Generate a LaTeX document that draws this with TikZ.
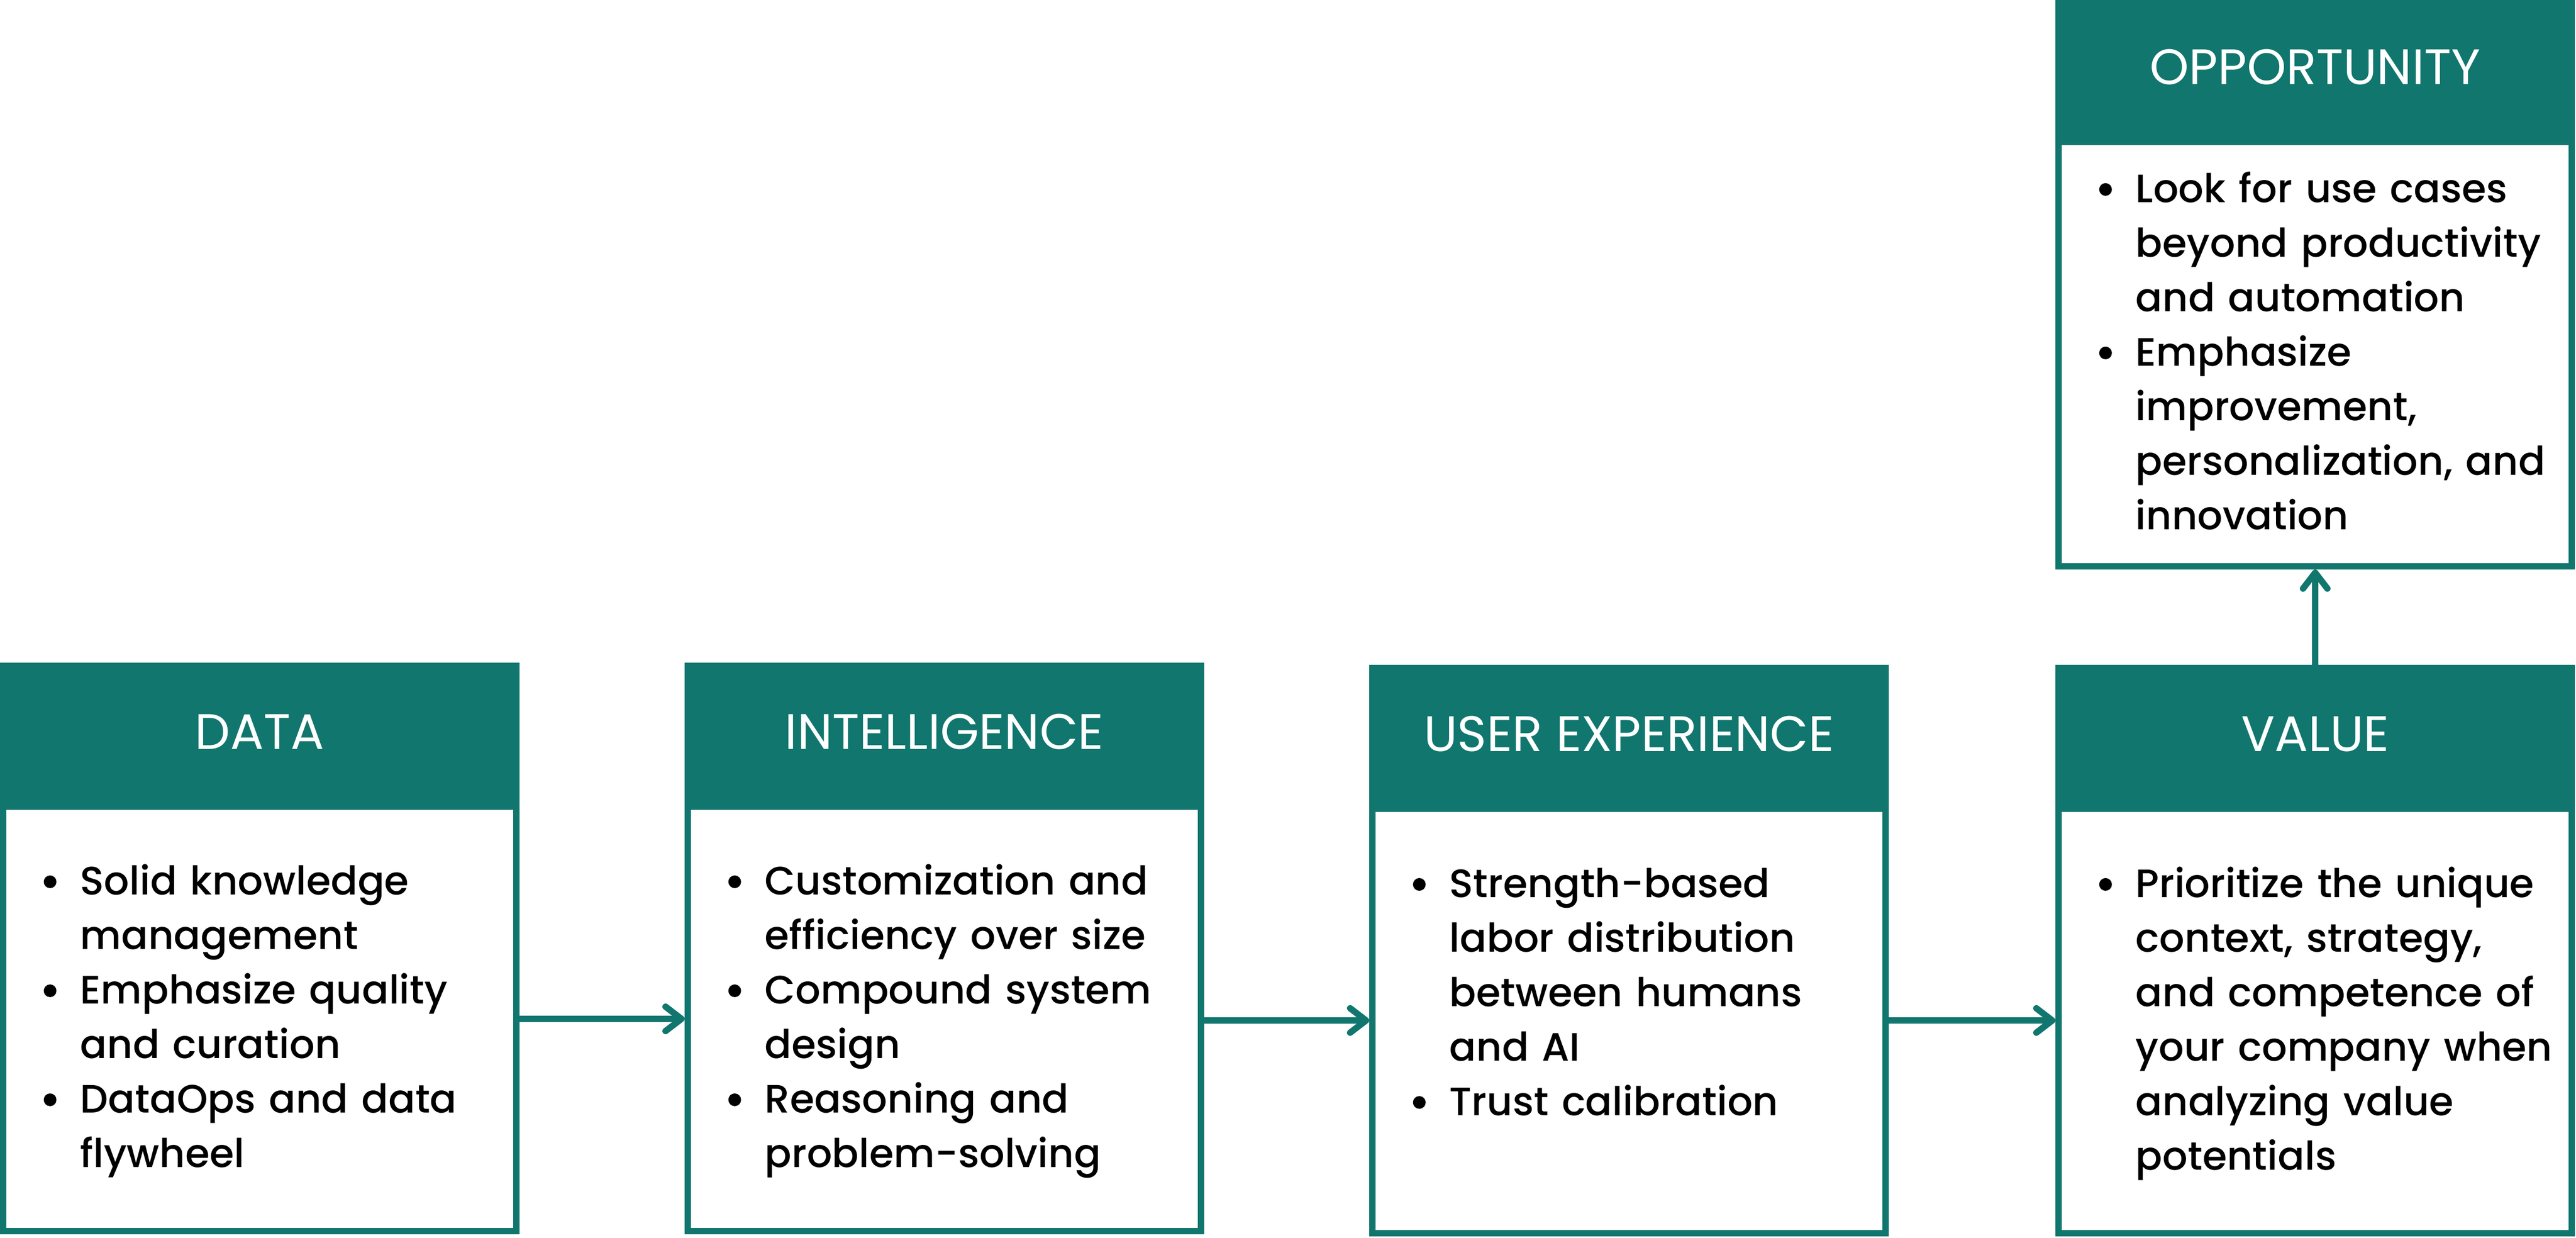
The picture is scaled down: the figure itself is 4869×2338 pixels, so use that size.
\documentclass[tikz,border=0pt]{standalone}
\usepackage{fontspec}
\setmainfont{Poppins}
\IfFontExistsTF{Poppins Medium}{\newfontfamily\bodyfont{Poppins Medium}}{\newfontfamily\bodyfont{Poppins}}
\usetikzlibrary{arrows.meta}
\definecolor{sage}{RGB}{16,118,110}
\newcommand{\bitem}[1]{\par\noindent\hangindent=6.9mm\hangafter=1\makebox[6.9mm][l]{\tikz[baseline={(0,-2.5mm)}]\fill (0,0) circle (1.2mm);}#1\par}
\tikzset{
  card/.style={draw=sage, line width=1.2mm, fill=white, minimum width=97mm, minimum height=106.8mm, inner sep=0pt, outer sep=0.6mm},
  head/.style={text=white, font=\fontsize{26.8pt}{30pt}\selectfont, inner sep=0pt},
  body/.style={anchor=base west, text width=88mm, align=left, inner sep=0pt, font=\bodyfont\fontsize{21.3pt}{29.3pt}\selectfont},
  flow/.style={draw=sage, line width=1.2mm, -{Straight Barb[length=3mm, width=4.6mm, round]}},
}
\begin{document}
\begin{tikzpicture}[x=0.1mm, y=0.1mm]
\useasboundingbox (0,0) rectangle (4869,2338);
% cards and their headings
\foreach \n/\x/\y/\t in {data/491/546/DATA, intel/1785/546/INTELLIGENCE, ux/3079/542/USER EXPERIENCE, value/4376/542/VALUE, opp/4376/1802/OPPORTUNITY}{
  \node[card] (\n) at (\x,\y) {};
  \fill[sage] (\n.north west) rectangle ([yshift=-27.8mm]\n.north east);
  \node[head] (\n-t) at ([yshift=-13.1mm]\n.north) {\t};
}
% bullet lists
\node[body] (data-b) at ([shift={(82,-336)}]data.north west) {%
  \bitem{Solid knowledge\newline management}%
  \bitem{Emphasize quality\newline and curation}%
  \bitem{DataOps and data\newline flywheel}};
\node[body] (intel-b) at ([shift={(82,-336)}]intel.north west) {%
  \bitem{Customization and\newline efficiency over size}%
  \bitem{Compound system\newline design}%
  \bitem{Reasoning and\newline problem-solving}};
\node[body] (ux-b) at ([shift={(82,-337)}]ux.north west) {%
  \bitem{Strength-based\newline labor distribution\newline between humans\newline and AI}%
  \bitem{Trust calibration}};
\node[body] (value-b) at ([shift={(82,-337)}]value.north west) {%
  \bitem{Prioritize the unique\newline context, strategy,\newline and competence of\newline your company when\newline analyzing value\newline potentials}};
\node[body] (opp-b) at ([shift={(82,-284)}]opp.north west) {%
  \bitem{Look for use cases\newline beyond productivity\newline and automation}%
  \bitem{Emphasize\newline improvement,\newline personalization, and\newline innovation}};
% connectors
\draw[flow] ([yshift=-13.3mm]data.east) -- ([yshift=-13.3mm]intel.west);
\draw[flow] ([yshift=-13.6mm]intel.east) -- ([yshift=-13.2mm]ux.west);
\draw[flow] ([yshift=-13.2mm]ux.east) -- ([yshift=-13.2mm]value.west);
\draw[flow] (value.north) -- (opp.south);
\end{tikzpicture}
\end{document}
